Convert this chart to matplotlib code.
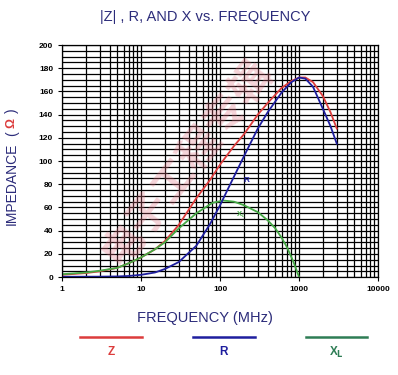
import matplotlib
matplotlib.use("Agg")
import matplotlib.pyplot as plt
from matplotlib.ticker import FixedLocator, NullFormatter

plt.rcParams['font.family'] = ['Liberation Sans', 'DejaVu Sans']

# values (frequency in MHz, impedance in ohm)
z_freq = [1, 2, 3, 5, 7, 10, 15, 20, 30, 50, 75, 100, 150, 200, 300, 400,
          600, 800, 1000, 1200, 1500, 2000, 2500, 3000]
z_vals = [2, 3.5, 5, 8, 12, 17, 24, 31, 45, 68, 84, 97, 113, 123, 140, 150,
          163, 169, 172, 172, 168, 156, 142, 128]

r_freq = [1, 3, 5, 7, 10, 15, 20, 30, 50, 75, 100, 130, 200, 300, 400, 600,
          800, 1000, 1200, 1500, 2000, 2500, 3000]
r_vals = [0.3, 0.4, 0.6, 1, 2, 4, 7, 13, 27, 46, 62, 78, 104, 128, 142, 159,
          168, 172, 171, 164, 145, 130, 115]

x_freq = [1, 2, 3, 5, 7, 10, 15, 20, 30, 50, 80, 110, 150, 200, 300, 400,
          500, 600, 700, 850, 1000]
x_vals = [2.5, 4, 5.5, 8, 12, 17, 24, 30, 42, 55, 64, 66, 65, 62, 56, 49,
          42, 34, 26, 13, 0]

y_ticks = [0, 20, 40, 60, 80, 100, 120, 140, 160, 180, 200]
x_ticks = [1, 10, 100, 1000, 10000]
x_ticklabels = ['1', '10', '100', '1000', '10000']

c_z = '#dc3c3c'
c_r = '#1e1e9e'
c_x = '#45a845'
c_x_leg = '#2e7d55'
c_text = '#2c2c7a'

fig = plt.figure(figsize=(3.98, 3.75), dpi=100)
ax = fig.add_axes([0.156, 0.261, 0.794, 0.619])

ax.set_xscale('log')
ax.set_xlim(1, 10000)
ax.set_ylim(0, 200)

# dense black grid: every log minor and every 5 ohm
minor_x = [m * 10 ** d for d in range(4) for m in range(1, 10)] + [10000]
ax.xaxis.set_major_locator(FixedLocator(x_ticks))
ax.xaxis.set_minor_locator(FixedLocator(minor_x))
ax.xaxis.set_minor_formatter(NullFormatter())
ax.set_xticklabels(x_ticklabels)
ax.set_yticks(y_ticks)
ax.set_yticks(list(range(0, 201, 5)), minor=True)
ax.grid(True, which='both', color='black', linewidth=0.9)
ax.tick_params(which='both', length=3, width=0.8, color='black')
ax.tick_params(which='minor', length=0)
ax.tick_params(labelsize=6)
for lab in ax.get_xticklabels() + ax.get_yticklabels():
    lab.set_fontweight('bold')
for s in ax.spines.values():
    s.set_linewidth(0.9)

# watermark
fig.text(0.47, 0.57, '电子工程专辑', fontsize=30, color='#e07080', alpha=0.3,
         rotation=52, ha='center', va='center',
         family=['Noto Sans CJK SC', 'DejaVu Sans'], fontweight='bold', zorder=0)

ax.plot(z_freq, z_vals, color=c_z, linewidth=1.3)
ax.plot(x_freq, x_vals, color=c_x, linewidth=1.3)
ax.plot(r_freq, r_vals, color=c_r, linewidth=1.3)

ax.text(200, 82, 'R', color=c_r, fontsize=6, fontweight='bold')
ax.text(160, 52, 'X$_L$', color=c_x, fontsize=5.5, fontweight='bold')

fig.text(0.515, 0.955, '|Z| , R, AND X vs. FREQUENCY', fontsize=10.5,
         color=c_text, ha='center', va='center')
fig.text(0.515, 0.152, 'FREQUENCY (MHz)', fontsize=10.5, color=c_text,
         ha='center', va='center')

fig.text(0.030, 1 - 184 / 375, 'IMPEDANCE', fontsize=10, color=c_text,
         rotation=90, ha='center', va='center')
fig.text(0.030, 1 - 134 / 375, '(', fontsize=10, color=c_text,
         rotation=90, ha='center', va='center')
fig.text(0.030, 1 - 123 / 375, 'Ω', fontsize=9, color=c_z, fontweight='bold',
         rotation=90, ha='center', va='center')
fig.text(0.030, 1 - 111 / 375, ')', fontsize=10, color=c_text,
         rotation=90, ha='center', va='center')

# legend drawn below the plot
leg_y = 1 - 337 / 375
lab_y = 1 - 352 / 375
for x0, x1, col, lab in [(80, 142, c_z, 'Z'), (193, 255, c_r, 'R'),
                         (306, 367, c_x_leg, 'X$_\\mathbf{L}$')]:
    fig.add_artist(plt.Line2D([x0 / 398, x1 / 398], [leg_y, leg_y],
                              color=col, linewidth=1.8))
    fig.text((x0 + x1) / 2 / 398, lab_y, lab, color=col, fontsize=8.5,
             fontweight='bold', ha='center', va='center')

fig.savefig('out.png', dpi=100)
